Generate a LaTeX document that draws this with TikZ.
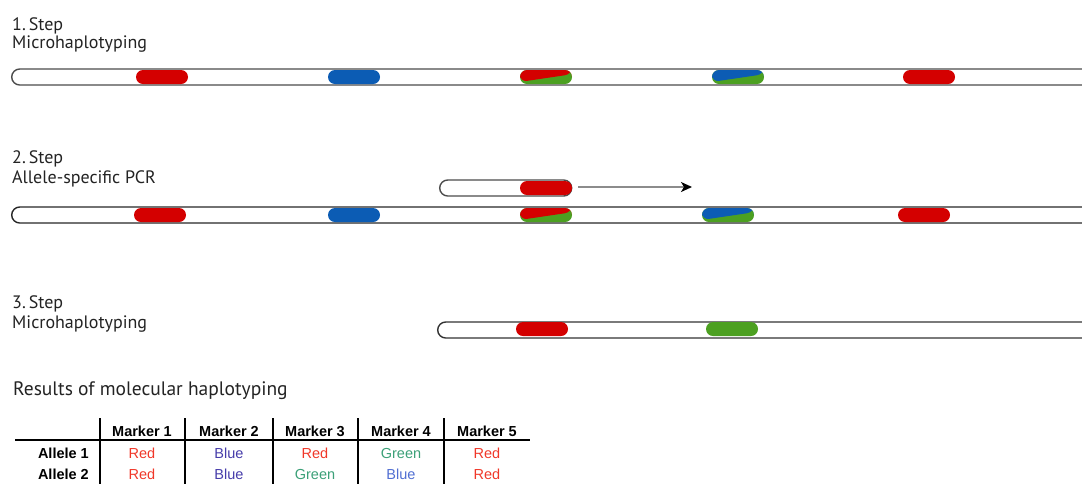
\documentclass[tikz,border=0pt]{standalone}
\usepackage{fontspec}
\setmainfont{PT Sans}
\newfontfamily\tabfont{Liberation Sans}
\usetikzlibrary{calc}
\usetikzlibrary{arrows.meta}
\definecolor{mred}{RGB}{212,0,0}
\definecolor{mblue}{RGB}{12,92,180}
\definecolor{mgreen}{RGB}{76,160,33}
\definecolor{txtgray}{RGB}{35,35,35}
\definecolor{tred}{RGB}{240,55,40}
\definecolor{tblue}{RGB}{70,60,170}
\definecolor{tbluelt}{RGB}{80,110,210}
\definecolor{tgreen}{RGB}{60,160,120}
\tikzset{
 chrom/.style={draw=black!70, line width=1.4pt, rounded corners=8pt, minimum height=16pt, inner sep=0, anchor=west},
 mark/.style={fill=#1, rounded corners=7pt, minimum width=52pt, minimum height=14pt, inner sep=0},
 splitmark/.style={fill=mgreen, rounded corners=7pt, minimum width=52pt, minimum height=14pt, inner sep=0,
   path picture={\fill[#1] (path picture bounding box.north west) -- (path picture bounding box.north east)
   -- ($(path picture bounding box.north east)!0.3!(path picture bounding box.south east)$)
   -- ($(path picture bounding box.north west)!0.85!(path picture bounding box.south west)$) -- cycle;}},
 steplbl/.style={anchor=base west, inner sep=0, text=txtgray, font=\fontsize{18}{21}\selectfont},
 hdr/.style={font=\tabfont\bfseries\fontsize{14.5}{16}\selectfont, inner sep=0, anchor=base},
 cell/.style={font=\tabfont\fontsize{14.5}{16}\selectfont, inner sep=0, anchor=base, text=#1}
}
\begin{document}
\begin{tikzpicture}[x=1pt, y=-1pt]
\useasboundingbox (0,0) rectangle (1082,483);
\clip (0,0) rectangle (1082,483);

% step 1
\node[steplbl] (s1a) at (12,30) {1.\,Step};
\node[steplbl] (s1b) at (12,48) {Microhaplotyping};
\node[chrom, minimum width=1090pt] (chr1) at (11,77) {};
\node[mark=mred] (m11) at (162,77) {};
\node[mark=mblue] (m12) at (354,77) {};
\node[splitmark=mred] (m13) at (546,77) {};
\node[splitmark=mblue] (m14) at (738,77) {};
\node[mark=mred] (m15) at (929,77) {};

% step 2
\node[steplbl] (s2a) at (12,163) {2.\,Step};
\node[steplbl] (s2b) at (12,183) {Allele-specific PCR};
\node[chrom, minimum width=132pt] (primer) at (439,188) {};
\node[mark=mred] (mp) at (546,188) {};
\coordinate (pend) at (692,187);
\draw[black!45, line width=1.6pt, -{Stealth[black, length=11pt, width=10pt, inset=3pt]}] (primer.east) ++(6,-1) -- (pend);
\node[chrom, minimum width=1090pt, draw=black!85] (chr2) at (11,215) {};
\node[mark=mred] (m21) at (160,215) {};
\node[mark=mblue] (m22) at (354,215) {};
\node[splitmark=mred] (m23) at (546,215) {};
\node[splitmark=mblue] (m24) at (728,215) {};
\node[mark=mred] (m25) at (924,215) {};

% step 3
\node[steplbl] (s3a) at (12,308) {3.\,Step};
\node[steplbl] (s3b) at (12,328) {Microhaplotyping};
\node[chrom, minimum width=660pt, draw=black!80] (chr3) at (437,330) {};
\node[mark=mred] (m31) at (542,329) {};
\node[mark=mgreen] (m32) at (732,329) {};

% results table
\node[steplbl, font=\fontsize{19.5}{22}\selectfont] (res) at (13,395) {Results of molecular haplotyping};
\draw[line width=2.2pt] (15,440) -- (530,440);
\foreach \x in {100,185,273,358,444} {
 \draw[line width=1.3pt] (\x,418) -- (\x,490);
}
\foreach \m/\x in {1/142,2/229,3/315,4/401,5/487} {
 \node[hdr] (h\m) at (\x,436) {Marker \m};
}
\node[hdr, anchor=base east] (a1) at (89,458) {Allele 1};
\node[hdr, anchor=base east] (a2) at (89,479) {Allele 2};
\node[cell=tred] (c11) at (142,458) {Red};
\node[cell=tblue] (c12) at (229,458) {Blue};
\node[cell=tred] (c13) at (315,458) {Red};
\node[cell=tgreen] (c14) at (401,458) {Green};
\node[cell=tred] (c15) at (487,458) {Red};
\node[cell=tred] (c21) at (142,479) {Red};
\node[cell=tblue] (c22) at (229,479) {Blue};
\node[cell=tgreen] (c23) at (315,479) {Green};
\node[cell=tbluelt] (c24) at (401,479) {Blue};
\node[cell=tred] (c25) at (487,479) {Red};
\end{tikzpicture}
\end{document}
